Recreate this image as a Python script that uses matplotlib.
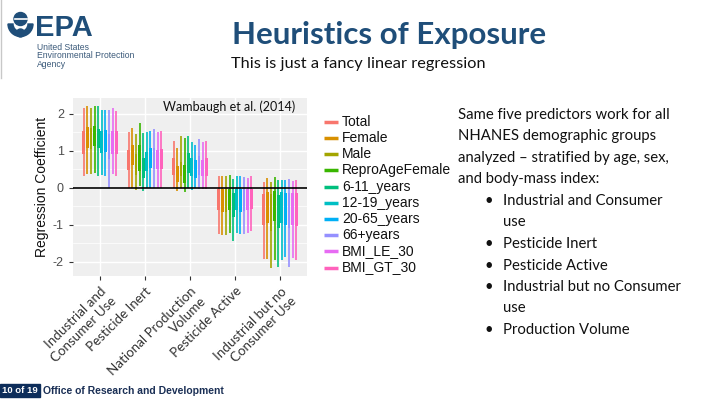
import numpy as np
import matplotlib
matplotlib.use("Agg")
from matplotlib import pyplot as plt
from matplotlib.patches import Rectangle, Circle, Wedge

plt.rcParams['axes.unicode_minus'] = False

# predictors (x categories)
predictors = ['Industrial and\nConsumer Use', 'Pesticide Inert',
              'National Production\nVolume', 'Pesticide Active',
              'Industrial but no\nConsumer Use']

# demographic groups (series)
groups = ['Total', 'Female', 'Male', 'ReproAgeFemale', '6-11_years',
          '12-19_years', '20-65_years', '66+years', 'BMI_LE_30', 'BMI_GT_30']
colors = ['#F8766D', '#D89000', '#A3A500', '#39B600', '#00BF7D',
          '#00BFC4', '#00B0F6', '#9590FF', '#E76BF3', '#FF62BC']

# rows = predictor, cols = group
whisk_hi = np.array([
    [2.15, 2.20, 2.17, 2.21, 2.20, 2.10, 2.10, 2.10, 2.15, 2.08],
    [1.52, 1.63, 1.45, 1.75, 1.48, 1.52, 1.54, 1.60, 1.50, 1.54],
    [1.27, 1.07, 1.39, 1.36, 1.39, 1.23, 1.16, 1.32, 1.23, 1.27],
    [0.31, 0.31, 0.31, 0.35, 0.24, 0.33, 0.31, 0.29, 0.27, 0.33],
    [0.15, 0.26, 0.15, 0.28, 0.22, 0.22, 0.22, 0.24, 0.17, 0.20],
])
box_hi = np.array([
    [1.54, 1.64, 1.63, 1.66, 1.60, 1.53, 1.55, 1.45, 1.54, 1.54],
    [1.03, 1.16, 0.91, 1.16, 0.80, 0.98, 1.07, 1.07, 1.03, 1.05],
    [0.80, 0.58, 0.71, 0.62, 0.94, 0.80, 0.76, 0.85, 0.76, 0.80],
    [-0.04, -0.04, -0.04, -0.04, -0.15, -0.04, -0.04, -0.04, -0.04, -0.04],
    [-0.18, -0.12, -0.18, -0.10, -0.19, -0.12, -0.13, -0.14, -0.14, -0.14],
])
box_lo = np.array([
    [0.91, 1.07, 1.05, 1.12, 1.07, 0.94, 0.96, 0.77, 0.91, 0.92],
    [0.49, 0.62, 0.35, 0.44, 0.26, 0.44, 0.53, 0.51, 0.51, 0.51],
    [0.35, 0.15, 0.31, 0.13, 0.40, 0.31, 0.26, 0.35, 0.32, 0.33],
    [-0.60, -0.66, -0.65, -0.60, -0.78, -0.60, -0.65, -0.63, -0.60, -0.57],
    [-1.00, -0.96, -1.16, -0.91, -1.09, -0.96, -1.00, -1.09, -1.00, -1.04],
])
whisk_lo = np.array([
    [0.31, 0.37, 0.38, 0.40, 0.33, 0.35, 0.32, 0.00, 0.37, 0.31],
    [0.00, 0.00, -0.05, 0.04, -0.10, 0.00, -0.01, -0.01, -0.01, 0.00],
    [0.00, -0.10, 0.00, -0.12, 0.00, -0.05, -0.01, -0.03, -0.03, -0.03],
    [-1.25, -1.27, -1.29, -1.23, -1.43, -1.23, -1.25, -1.25, -1.23, -1.18],
    [-1.93, -1.92, -2.17, -1.95, -2.15, -1.95, -1.88, -2.15, -1.90, -1.95],
])

navy = '#1F4E79'
fig = plt.figure(figsize=(7.2, 4.04), dpi=100)

# background layer in pixel coordinates for the slide decorations
deco = fig.add_axes([0, 0, 1, 1])
deco.set_xlim(0, 720)
deco.set_ylim(404, 0)
deco.axis('off')

# EPA logo
deco.plot([1, 1], [0, 78], color='#c8c8c8', lw=1)
deco.add_patch(Wedge((20.5, 24), 12.5, 0, 180, width=5, color=navy))
deco.add_patch(Circle((20.5, 19), 6.5, color=navy))
deco.plot([14.5, 26.5], [19, 19], color='white', lw=1.2)
deco.add_patch(Circle((20.5, 33), 4, color=navy))
deco.text(35, 36, 'EPA', fontsize=21, fontweight='bold', color=navy,
          family='Liberation Sans', va='baseline')
for i, line in enumerate(['United States', 'Environmental Protection', 'Agency']):
    deco.text(37, 50 + i * 8.5, line, fontsize=6.2, color='#3b5a7a',
              family='Liberation Sans', va='baseline')

# title / subtitle
deco.text(389, 35, 'Heuristics of Exposure', fontsize=22.5, fontweight='bold',
          color=navy, family='Lato', ha='center', va='center')
deco.text(231, 64, 'This is just a fancy linear regression', fontsize=11.8,
          color='#111111', family='Lato', va='center')

# right text block
body = ['Same five predictors work for all', 'NHANES demographic groups',
        'analyzed \u2013 stratified by age, sex,', 'and body-mass index:']
for i, line in enumerate(body):
    deco.text(458, 115 + i * 21.4, line, fontsize=10.7, color='#111111',
              family='Lato', va='center')
bullets = [('Industrial and Consumer', True), ('use', False), ('Pesticide Inert', True),
           ('Pesticide Active', True), ('Industrial but no Consumer', True),
           ('use', False), ('Production Volume', True)]
for i, (line, dot) in enumerate(bullets):
    y = 201 + i * 21.5
    if dot:
        deco.text(489, y, '\u2022', fontsize=10.7, color='#111111',
                  family='Lato', va='center', ha='center')
    deco.text(503, y, line, fontsize=10.7, color='#111111', family='Lato', va='center')

# footer
deco.add_patch(Rectangle((0, 384), 40, 12.5, color='#0d2d5a'))
deco.text(20, 390.5, '10 of 19', fontsize=6.8, fontweight='bold', color='white',
          family='Liberation Sans', ha='center', va='center')
deco.text(43, 390.5, 'Office of Research and Development', fontsize=7.5,
          fontweight='bold', color='#1a2f55', family='Liberation Sans', va='center')

# legend
for i, (name, c) in enumerate(zip(groups, colors)):
    y = 121.7 + i * 16.2
    deco.plot([324, 338], [y, y], color=c, lw=2.5, solid_capstyle='butt')
    deco.text(342, y, name, fontsize=10, color='#111111',
              family='Liberation Sans', va='center')

# chart
ax = fig.add_axes([73 / 720, 1 - 276 / 404, 234 / 720, 178 / 404])
ax.set_facecolor('#EFEFEF')
ax.set_axisbelow(True)

slot = 0.08
for j, c in enumerate(colors):
    xs = np.arange(1, 6) + (j - 4.5) * slot
    ax.vlines(xs, whisk_lo[:, j], whisk_hi[:, j], color=c, lw=1.2)
    ax.bar(xs, box_hi[:, j] - box_lo[:, j], bottom=box_lo[:, j],
           width=0.066, color=c, linewidth=0)

ax.axhline(0, color='black', lw=1.2)
ax.set_xlim(0.4, 5.6)
ax.set_ylim(-2.39, 2.43)
ax.set_yticks([-2, -1, 0, 1, 2])
ax.set_yticklabels(['-2', '-1', '0', '1', '2'], fontsize=9, color='#4D4D4D',
                   family='Liberation Sans')
ax.set_yticks([-1.5, -0.5, 0.5, 1.5], minor=True)
ax.set_xticks(np.arange(1, 6))
ax.set_xticklabels(predictors, rotation=45, ha='right', va='top',
                   rotation_mode='anchor', multialignment='right',
                   fontsize=9.6, color='#333333', family='Lato')
ax.tick_params(which='major', length=3, color='#333333', width=0.8)
ax.tick_params(which='minor', length=0)
ax.grid(True, which='major', color='white', lw=1.0)
ax.grid(True, which='minor', axis='y', color='white', lw=0.5)
for s in ax.spines.values():
    s.set_visible(False)

ax.set_ylabel('Regression Coefficient', fontsize=10, color='#111111',
              family='Liberation Sans')
ax.yaxis.set_label_coords(-0.103, 0.5)
ax.text(3.87, 2.19, 'Wambaugh et al. (2014)', fontsize=9, color='#111111',
        family='Lato', ha='center', va='center')

fig.savefig('out.png', dpi=100)
